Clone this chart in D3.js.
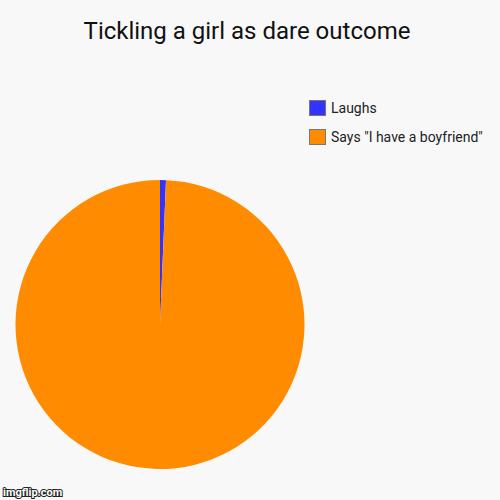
<!DOCTYPE html>
<html>
<head>
<meta charset="utf-8">
<script src="https://cdn.jsdelivr.net/npm/d3@7"></script>
<style>
  body { margin: 0; background: #f8f8f8; }
  svg { display: block; font-family: Roboto, "Open Sans", sans-serif; }
</style>
</head>
<body>
<div class="chart"></div>
<script>
const width = 500;
const height = 500;

const categories = ["Laughs", "Says \"I have a boyfriend\""];
const values = [1, 150];
const colors = ["#3333ff", "#ff8c00"];

const svg = d3.select(".chart")
  .append("svg")
  .attr("width", width)
  .attr("height", height);

svg.append("rect")
  .attr("width", width)
  .attr("height", height)
  .attr("fill", "#f8f8f8");

// title
svg.append("text")
  .attr("x", 247)
  .attr("y", 39)
  .attr("text-anchor", "middle")
  .attr("font-size", 24)
  .attr("fill", "#111")
  .text("Tickling a girl as dare outcome");

const color = d3.scaleOrdinal()
  .domain(categories)
  .range(colors);

const pie = d3.pie()
  .sort(null)
  .value(d => d.value);

const arc = d3.arc()
  .innerRadius(0)
  .outerRadius(144.5);

const data = categories.map((c, i) => ({name: c, value: values[i]}));

const pieG = svg.append("g")
  .attr("transform", "translate(160,324.5)");

pieG.selectAll("path")
  .data(pie(data))
  .join("path")
  .attr("d", arc)
  .attr("fill", d => color(d.data.name));

// legend
const legend = svg.append("g")
  .attr("transform", "translate(309,100)")
  .selectAll("g")
  .data(categories)
  .join("g")
  .attr("transform", (d, i) => `translate(0,${i * 29})`);

legend.append("rect")
  .attr("x", 0.5)
  .attr("y", 0.5)
  .attr("width", 16)
  .attr("height", 15)
  .attr("fill", d => color(d))
  .attr("stroke", "#777")
  .attr("stroke-width", 1);

legend.append("text")
  .attr("x", 22)
  .attr("y", 13)
  .attr("font-size", 14)
  .attr("fill", "#222")
  .text(d => d);

// watermark
svg.append("text")
  .attr("x", 3)
  .attr("y", 496)
  .attr("font-size", 11)
  .attr("font-weight", "bold")
  .attr("fill", "#fff")
  .attr("stroke", "#222")
  .attr("stroke-width", 2)
  .attr("paint-order", "stroke")
  .text("imgflip.com");
</script>
</body>
</html>
